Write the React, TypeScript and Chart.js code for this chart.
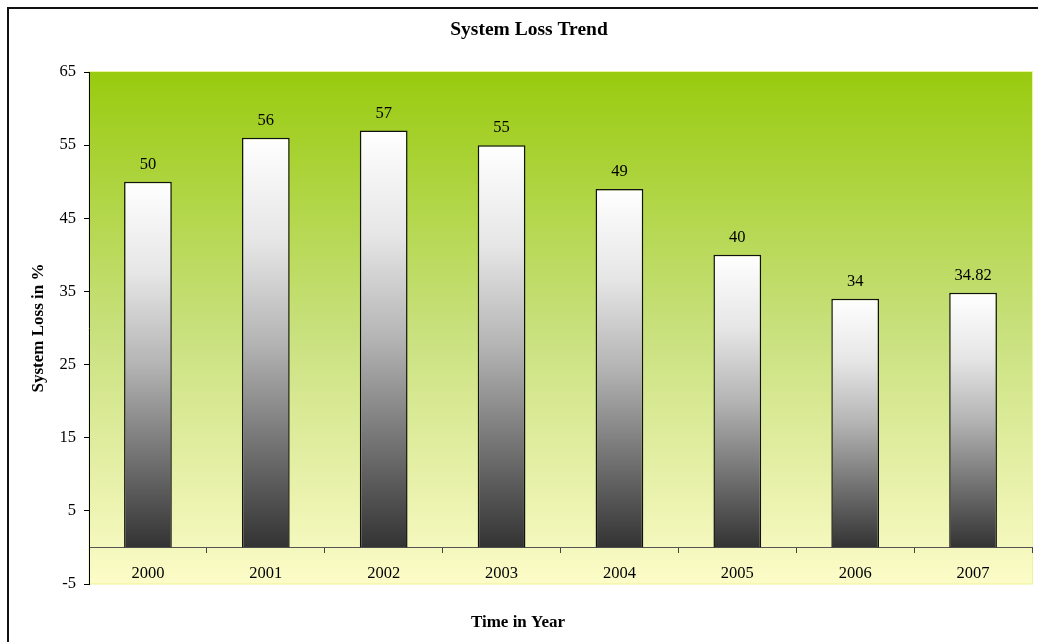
import React, { useEffect, useRef } from 'react';
import { Chart, registerables } from 'chart.js';

Chart.register(...registerables);

const years = ['2000', '2001', '2002', '2003', '2004', '2005', '2006', '2007'];
const systemLoss = [50, 56, 57, 55, 49, 40, 34, 34.82];
const yMin = -5;
const yMax = 65;
const yStep = 10;
const chartTitle = 'System Loss Trend';
const yTitle = 'System Loss in %';
const xTitle = 'Time in Year';

const FONT = "'Liberation Serif', 'Times New Roman', serif";
const W = 1058;
const H = 660;

const backgroundPlugin = {
  id: 'plotBackground',
  beforeDraw(chart: any) {
    const { ctx, chartArea: ca } = chart;
    ctx.save();
    // outer frame
    ctx.fillStyle = '#111';
    ctx.fillRect(7, 7, 2, H);
    ctx.fillRect(7, 7, W, 2);
    // plot area gradient
    const g = ctx.createLinearGradient(0, ca.top, 0, ca.bottom);
    g.addColorStop(0, '#99CB0F');
    g.addColorStop(0.5, '#C8E07C');
    g.addColorStop(1, '#FCFCC8');
    ctx.fillStyle = g;
    ctx.fillRect(ca.left, ca.top, ca.right - ca.left, ca.bottom - ca.top);
    ctx.strokeStyle = '#EEF29A';
    ctx.lineWidth = 1;
    ctx.strokeRect(ca.left, ca.top - 0.5, ca.right - ca.left + 0.5, ca.bottom - ca.top + 0.5);
    ctx.restore();
  },
};

const labelsPlugin = {
  id: 'barValueLabels',
  afterDatasetsDraw(chart: any) {
    const { ctx } = chart;
    const meta = chart.getDatasetMeta(0);
    ctx.save();
    ctx.font = `16.5px ${FONT}`;
    ctx.fillStyle = '#000';
    ctx.textAlign = 'center';
    ctx.textBaseline = 'alphabetic';
    meta.data.forEach((el: any, i: number) => {
      ctx.fillText(String(systemLoss[i]), el.x, el.y - 13);
    });
    ctx.restore();
  },
};

const titlesPlugin = {
  id: 'chartTitles',
  afterDraw(chart: any) {
    const { ctx } = chart;
    ctx.save();
    ctx.fillStyle = '#000';
    ctx.textAlign = 'center';
    ctx.textBaseline = 'middle';
    ctx.font = `bold 19.5px ${FONT}`;
    ctx.fillText(chartTitle, 529, 29.6);
    ctx.font = `bold 17px ${FONT}`;
    ctx.fillText(xTitle, 518, 623);
    ctx.restore();
  },
};

export default function App() {
  const canvasRef = useRef<HTMLCanvasElement | null>(null);

  useEffect(() => {
    if (!canvasRef.current) return;
    const chart = new Chart(canvasRef.current, {
      type: 'bar',
      data: {
        labels: years,
        datasets: [
          {
            data: systemLoss,
            backgroundColor: (c: any) => {
              const ch = c.chart;
              const ys = ch.scales && ch.scales.y;
              if (!ys || c.type !== 'data') return '#cccccc';
              const top = ys.getPixelForValue(c.raw);
              const base = ys.getPixelForValue(0);
              if (!isFinite(top) || !isFinite(base)) return '#cccccc';
              const g = ch.ctx.createLinearGradient(0, top, 0, base);
              g.addColorStop(0, '#FFFFFF');
              g.addColorStop(0.25, '#E6E6E6');
              g.addColorStop(0.5, '#B4B4B4');
              g.addColorStop(0.75, '#737373');
              g.addColorStop(1, '#333333');
              return g;
            },
            borderColor: '#111',
            borderWidth: 1.5,
            barPercentage: 0.405,
            categoryPercentage: 1,
          },
        ],
      },
      options: {
        responsive: false,
        animation: false,
        devicePixelRatio: 1,
        layout: { padding: { left: 0, right: 26, top: 72, bottom: 76 } },
        plugins: {
          legend: { display: false },
          tooltip: { enabled: false },
          title: { display: false },
        },
        scales: {
          x: {
            position: { y: 0 } as any,
            offset: true,
            ticks: {
              color: '#000',
              font: { family: FONT, size: 16.5 },
              padding: 11.3,
              maxRotation: 0,
              autoSkip: false,
            },
            grid: {
              offset: true,
              drawOnChartArea: false,
              drawTicks: true,
              tickLength: 5,
              color: '#444',
            },
            border: { display: true, color: '#555', width: 1 },
          },
          y: {
            min: yMin,
            max: yMax,
            ticks: {
              stepSize: yStep,
              color: '#000',
              font: { family: FONT, size: 16.5 },
              padding: 8,
            },
            grid: {
              drawOnChartArea: false,
              drawTicks: true,
              tickLength: 5,
              color: '#000',
            },
            border: { display: true, color: '#000', width: 1 },
            title: {
              display: true,
              text: yTitle,
              color: '#000',
              font: { family: FONT, size: 17, weight: 'bold' },
              padding: { top: 28.5, bottom: 0 },
            },
            afterFit: (s: any) => {
              s.width = 89;
            },
          },
        },
      } as any,
      plugins: [backgroundPlugin, labelsPlugin, titlesPlugin],
    });
    return () => chart.destroy();
  }, []);

  return (
    <div
      style={{
        position: 'fixed',
        left: 0,
        top: 0,
        width: 1038,
        height: 642,
        overflow: 'hidden',
        background: '#fff',
      }}
    >
      <canvas
        ref={canvasRef}
        width={W}
        height={H}
        style={{ position: 'absolute', left: 0, top: 0 }}
      />
    </div>
  );
}
